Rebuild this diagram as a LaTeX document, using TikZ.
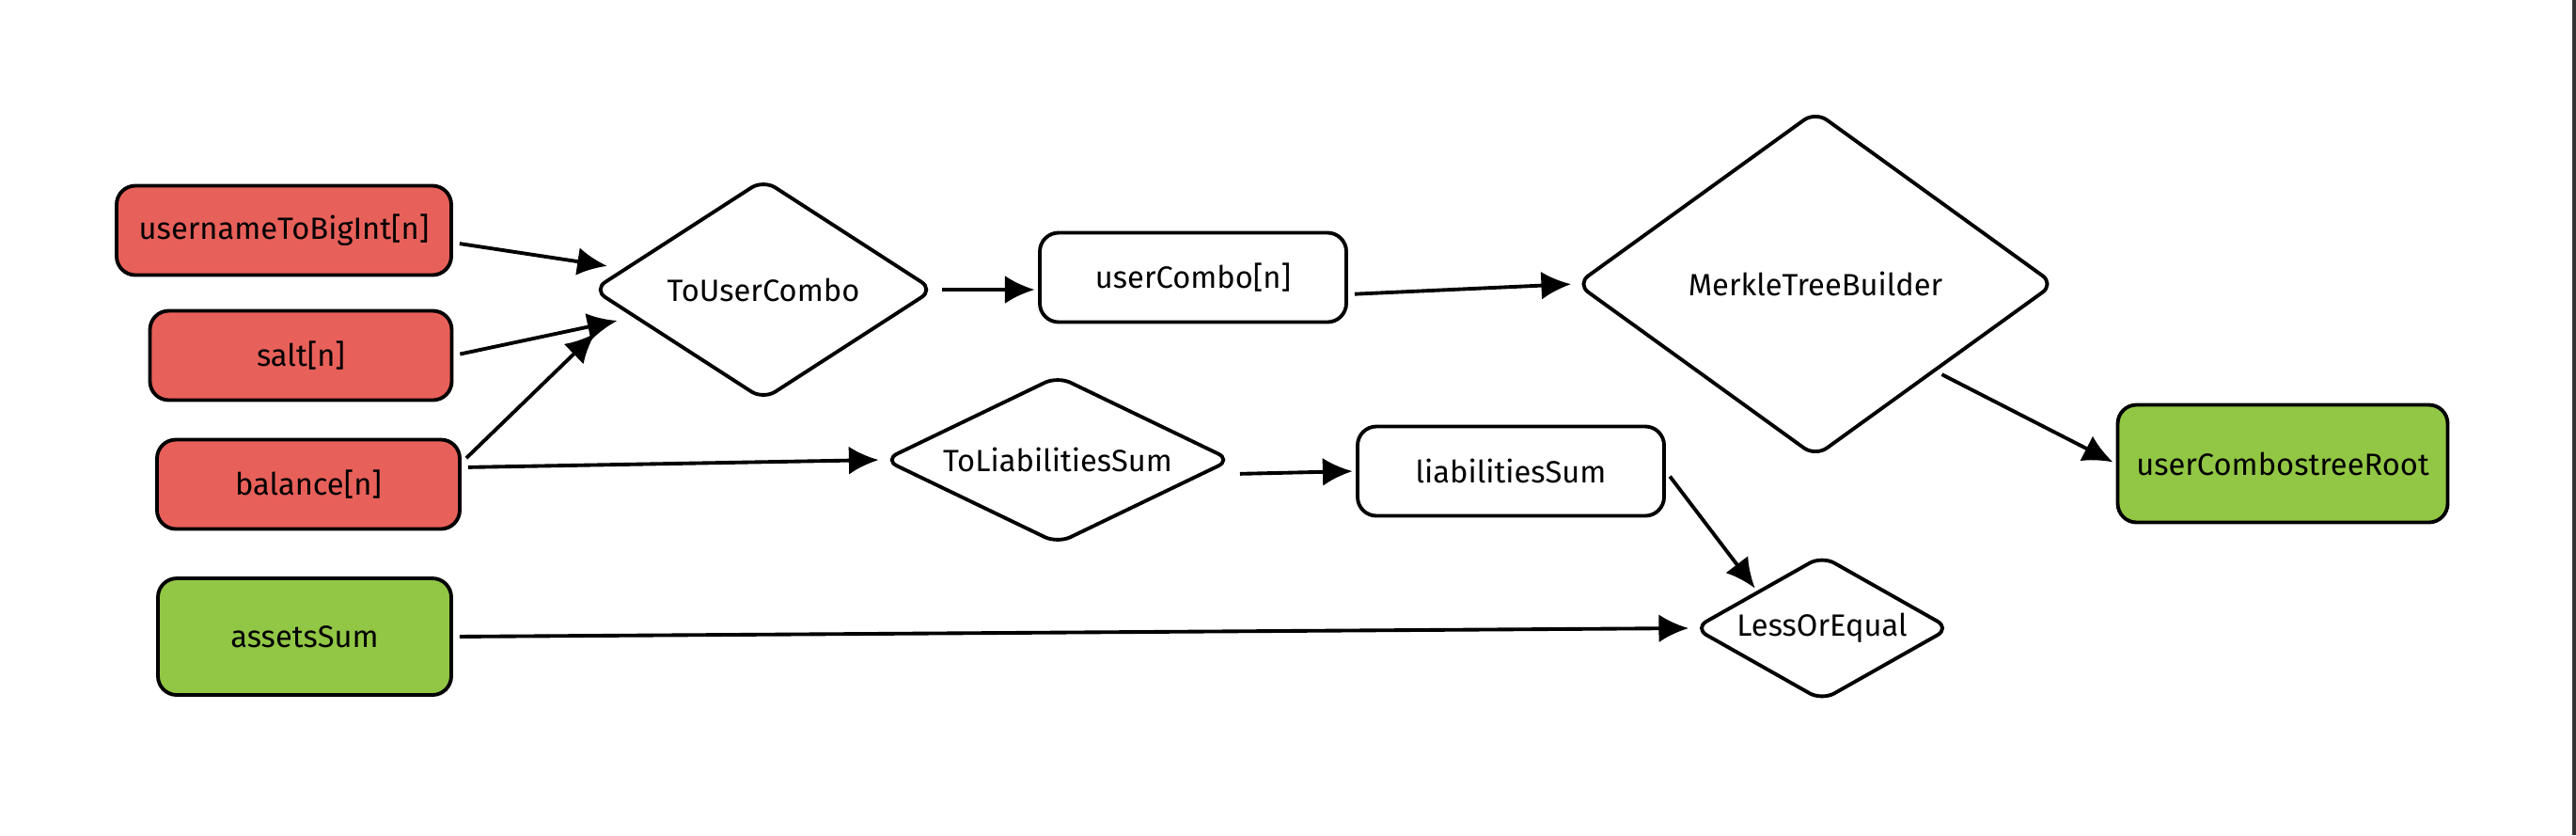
\documentclass[tikz,border=0pt]{standalone}
\usepackage{fontspec}
\setmainfont{Fira Sans}
\usepackage{tikz}
\usetikzlibrary{calc, shapes.geometric, arrows.meta}

\definecolor{inred}{HTML}{E8605A}
\definecolor{ingreen}{HTML}{92C745}

\begin{document}
\begin{tikzpicture}[
		box/.style = {draw, line width = 1.1pt, rounded corners = 0.2cm, minimum height = 0.95cm, font = \fontsize{9.3}{11}\selectfont},
		gate/.style = {draw, diamond, line width = 1.1pt, rounded corners = 0.15cm, inner sep = 0pt, font = \fontsize{9.3}{11}\selectfont},
		arr/.style = {line width = 1.1pt, -{Latex[length = 9pt, width = 8.5pt]}, shorten < = 2pt, shorten > = 1pt}
	]
			\useasboundingbox (0,0) rectangle (27.4,-8.88);
			\fill[black!80] (27.36,0) rectangle (27.4,-8.88);
			
			% inputs
			\node [box, fill = inred, minimum width = 3.56cm] (uname) at (3.02,-2.45) {usernameToBigInt[n]};
			\node [box, fill = inred, minimum width = 3.21cm] (salt) at (3.20,-3.78) {salt[n]};
			\node [box, fill = inred, minimum width = 3.22cm] (balance) at (3.28,-5.15) {balance[n]};
			\node [box, fill = ingreen, minimum width = 3.12cm, minimum height = 1.24cm] (assets) at (3.24,-6.77) {assetsSum};
			
			% gates
			\node [gate, aspect = 1.54, minimum width = 3.63cm, minimum height = 2.35cm] (tuc) at (8.12,-3.08) {ToUserCombo};
			\node [gate, aspect = 2.07, minimum width = 3.70cm, minimum height = 1.79cm] (tls) at (11.25,-4.89) {ToLiabilitiesSum};
			\node [gate, aspect = 1.38, minimum width = 5.09cm, minimum height = 3.68cm] (mtb) at (19.31,-3.02) {MerkleTreeBuilder};
			\node [gate, aspect = 1.76, minimum width = 2.73cm, minimum height = 1.55cm] (leq) at (19.38,-6.68) {LessOrEqual};
			
			% results
			\node [box, minimum width = 3.26cm] (ucombo) at (12.69,-2.95) {userCombo[n]};
			\node [box, minimum width = 3.26cm] (lsum) at (16.07,-5.01) {liabilitiesSum};
			\node [box, fill = ingreen, minimum width = 3.51cm, minimum height = 1.25cm] (root) at (24.28,-4.93) {userCombostreeRoot};
			
			\begin{scope}[arr]
				\draw [shorten > = 5pt] ([yshift=-0.13cm]uname.east) -- (tuc);
				\draw [shorten > = 5pt] (salt.east) -- (tuc);
				\draw ([yshift=0.23cm]balance.east) -- ([shift={(0.07,-0.44)}]tuc.west);
				\draw ([yshift=0.18cm]balance.east) -- (tls.west);
				\draw (tuc.east) -- (tuc.east -| ucombo.west);
				\draw ([yshift=-0.18cm]ucombo.east) -- (mtb.west);
				\draw ([yshift=-0.15cm]tls.east) -- (lsum.west);
				\draw (mtb.south east) -- (root.west);
				\draw (lsum.east) -- (leq.north west);
				\draw (assets.east) -- (leq.west);
			\end{scope}
		\end{tikzpicture}
\end{document}
